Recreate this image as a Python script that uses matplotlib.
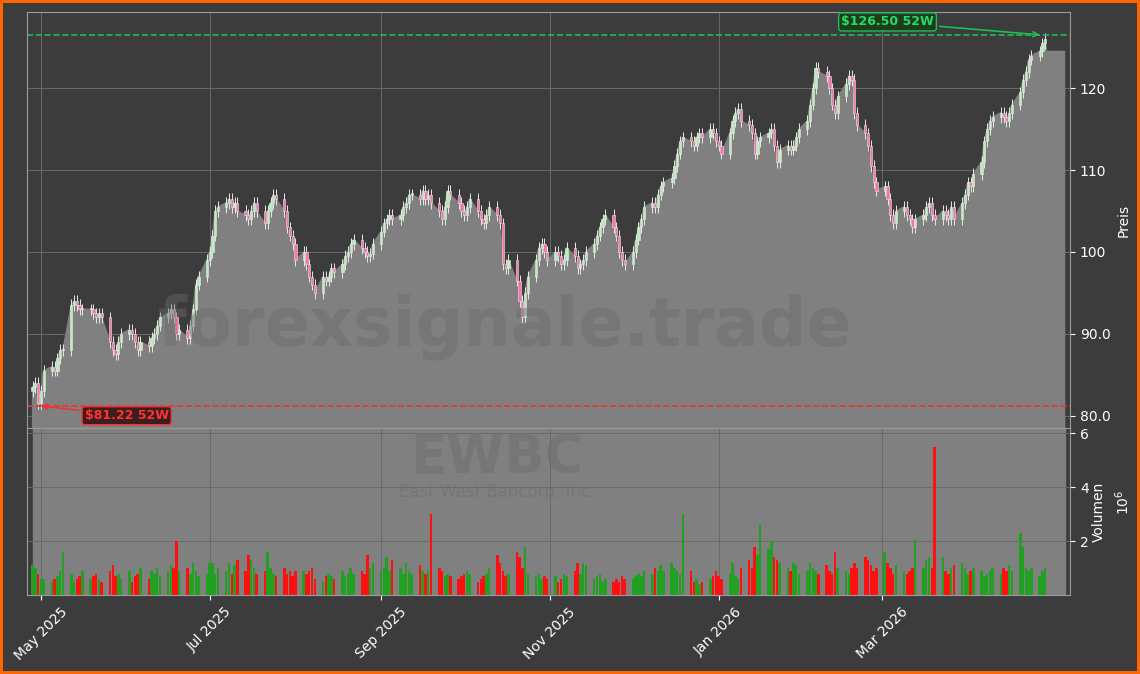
import matplotlib
matplotlib.use("Agg")
import matplotlib.pyplot as plt
import matplotlib.dates as mdates
import numpy as np
import pandas as pd

# daily closes, one list per week
weekly_closes = [
    [83.5, 84.0, 81.5, 83.0, 85.5],
    [86.0, 85.5, 87.0, 88.0, 88.0],
    [93.5, 94.0, 93.5, 93.0, 93.0],
    [93.0, 92.5, 92.0, 92.5, 92.0],
    [89.0, 88.0, 87.5, 89.0, 90.0],
    [90.5, 90.0, 89.0, 88.0, 89.0],
    [88.5, 89.5, 90.0, 91.0, 92.0],
    [92.5, 93.0, 92.0, 90.0, 90.5],
    [89.5, 91.0, 93.0, 96.0, 97.0],
    [99.0, 100.0, 102.0, 105.0, 105.5],
    [106.0, 106.5, 105.5, 106.0, 105.0],
    [104.5, 104.0, 105.0, 106.0, 105.0],
    [103.5, 105.0, 106.0, 107.0, 106.5],
    [105.0, 103.0, 102.0, 101.0, 99.0],
    [100.0, 98.5, 97.0, 96.0, 95.0],
    [97.0, 96.5, 97.0, 98.0, 97.5],
    [98.5, 99.5, 100.0, 101.0, 101.5],
    [100.5, 100.0, 99.5, 99.8, 101.0],
    [102.5, 103.5, 104.0, 104.5, 104.0],
    [104.5, 105.5, 106.0, 107.0, 107.0],
    [106.5, 107.5, 106.5, 107.0, 106.0],
    [105.0, 104.0, 105.5, 107.5, 107.0],
    [106.0, 105.0, 104.5, 105.5, 106.5],
    [105.0, 104.0, 103.5, 104.5, 105.5],
    [104.5, 103.5, 98.5, 98.0, 99.0],
    [96.5, 94.0, 92.0, 95.0, 97.0],
    [99.0, 100.5, 101.0, 100.0, 99.0],
    [100.0, 99.5, 98.5, 99.0, 100.5],
    [99.5, 98.0, 98.5, 99.0, 100.0],
    [101.0, 102.0, 103.0, 104.0, 104.5],
    [103.0, 102.0, 100.0, 99.0, 98.5],
    [100.0, 101.5, 103.0, 104.0, 105.5],
    [106.0, 105.5, 107.0, 108.0, 108.5],
    [109.0, 110.5, 112.0, 113.5, 114.0],
    [113.5, 113.0, 114.0, 114.5, 114.0],
    [115.0, 114.5, 113.5, 113.0, 112.0],
    [114.5, 116.0, 117.0, 117.5, 116.0],
    [115.5, 114.5, 112.0, 113.5, 114.0],
    [114.5, 115.0, 113.0, 111.0, 112.5],
    [113.0, 112.5, 113.0, 114.0, 115.0],
    [116.0, 118.0, 120.0, 122.5, 122.0],
    [121.5, 120.0, 118.0, 117.0, 119.0],
    [120.5, 121.5, 121.0, 117.0, 115.5],
    [114.5, 113.0, 110.5, 108.5, 107.5],
    [108.0, 106.5, 104.5, 103.5, 105.0],
    [105.5, 104.5, 104.0, 103.0, 104.0],
    [104.5, 105.5, 106.0, 104.5, 104.0],
    [105.0, 104.5, 104.0, 105.5, 104.0],
    [106.0, 107.0, 108.5, 108.0, 109.5],
    [111.0, 113.5, 115.0, 116.0, 116.5],
    [117.0, 116.5, 116.0, 117.0, 118.0],
    [119.5, 121.0, 122.0, 123.5, 124.0],
    [124.5, 125.5, 126.0],
]

# daily volume in millions, one list per week
weekly_volumes = [
    [1.1, 1.0, 0.8, 0.6, 0.6],
    [0.5, 0.6, 0.7, 0.9, 1.6],
    [0.8, 0.5, 0.6, 0.7, 0.9],
    [0.6, 0.7, 0.8, 0.6, 0.5],
    [0.9, 1.1, 0.7, 0.8, 0.6],
    [0.9, 0.5, 0.7, 0.8, 1.0],
    [0.6, 0.9, 0.8, 1.0, 0.7],
    [0.9, 1.1, 1.0, 2.0, 0.9],
    [1.0, 0.8, 1.2, 0.9, 0.7],
    [0.8, 1.2, 1.2, 0.8, 1.0],
    [0.9, 1.2, 0.8, 1.1, 1.3],
    [0.9, 1.5, 1.3, 1.0, 0.8],
    [0.9, 1.6, 1.0, 0.8, 0.7],
    [1.0, 0.8, 0.9, 0.7, 0.9],
    [0.9, 0.8, 0.9, 1.0, 0.6],
    [0.5, 0.7, 0.8, 0.7, 0.6],
    [0.9, 0.7, 0.8, 1.0, 0.8],
    [0.9, 0.8, 1.5, 1.0, 1.2],
    [0.9, 1.0, 1.4, 0.9, 1.3],
    [1.0, 0.8, 1.2, 0.9, 0.8],
    [1.1, 0.9, 0.8, 0.9, 3.0],
    [1.0, 0.9, 0.7, 0.8, 0.7],
    [0.6, 0.7, 0.8, 0.9, 0.8],
    [0.5, 0.6, 0.7, 0.8, 1.0],
    [1.5, 1.2, 0.9, 0.7, 0.8],
    [1.6, 1.4, 1.0, 1.8, 0.8],
    [0.7, 0.8, 0.6, 0.7, 0.6],
    [0.7, 0.5, 0.6, 0.8, 0.7],
    [0.9, 1.2, 0.8, 1.2, 1.1],
    [0.6, 0.7, 0.8, 0.5, 0.6],
    [0.5, 0.6, 0.5, 0.7, 0.6],
    [0.6, 0.7, 0.8, 0.7, 0.9],
    [0.8, 1.0, 0.9, 1.1, 0.9],
    [1.2, 1.0, 0.9, 0.8, 3.0],
    [0.9, 0.5, 0.6, 0.4, 0.5],
    [0.6, 0.7, 0.9, 0.7, 0.6],
    [0.8, 1.2, 0.7, 0.6, 1.0],
    [1.3, 1.0, 1.8, 1.5, 2.6],
    [1.7, 2.0, 1.4, 1.3, 1.2],
    [1.0, 0.9, 1.2, 1.1, 0.8],
    [0.9, 1.2, 1.0, 0.9, 0.8],
    [1.1, 0.9, 0.8, 1.6, 1.0],
    [0.9, 0.8, 1.0, 1.2, 1.0],
    [1.4, 1.3, 1.1, 0.9, 1.0],
    [1.6, 1.2, 1.0, 0.8, 1.1],
    [0.9, 0.8, 0.9, 1.0, 2.1],
    [1.0, 1.3, 1.4, 1.0, 5.5],
    [1.4, 0.9, 0.8, 1.0, 1.1],
    [1.2, 1.0, 0.8, 0.9, 1.0],
    [0.9, 0.7, 0.8, 0.9, 1.0],
    [0.8, 1.0, 0.9, 1.1, 0.9],
    [2.3, 1.8, 1.0, 0.9, 1.0],
    [0.7, 0.9, 1.0],
]

closes = [c for w in weekly_closes for c in w]
volumes = [v for w in weekly_volumes for v in w]
n = min(len(closes), len(volumes))
closes = np.array(closes[:n])
volumes = np.array(volumes[:n])
dates = pd.bdate_range("2025-04-28", periods=n)
opens = np.concatenate([[closes[0] - 0.5], closes[:-1]])

high_52w, low_52w = 126.50, 81.22
tail_close = 124.5  # flat tail of the area after the last candle

BG = "#3c3c3c"
fig = plt.figure(figsize=(11.4, 6.74), dpi=100, facecolor=BG,
                 edgecolor="#ff6600", linewidth=3)
ax = fig.add_axes([0.0237, 0.365, 0.915, 0.617], facecolor=BG)
axv = fig.add_axes([0.0237, 0.117, 0.915, 0.248], facecolor=BG, sharex=ax)

x = mdates.date2num(dates)
fill_x = np.append(x, [x[-1] + 0.5, x[-1] + 7])
fill_y = np.append(closes, [tail_close, tail_close])
ax.fill_between(fill_x, 0, fill_y, color="#808080", zorder=1)
axv.fill_between(fill_x[[0, -1]], 0, 10e6, color="#808080", zorder=0)

up = closes >= opens
for xi, o, c, u in zip(x, opens, closes, up):
    lo, hi = min(o, c), max(o, c)
    ax.vlines(xi, lo - 0.7, hi + 0.7, color="#e8e8e8", lw=0.7, zorder=2)
    ax.bar(xi, max(hi - lo, 0.15), bottom=lo, width=0.8,
           color="#b8f0b8" if u else "#ff70a8", edgecolor="#e8e8e8",
           linewidth=0.4, zorder=3)

axv.bar(x, volumes * 1e6, width=0.9,
        color=np.where(up, "#22a022", "#ff1010"), zorder=2)

ax.axhline(high_52w, color="#22bb55", ls="--", lw=1.2)
ax.axhline(low_52w, color="#ee3333", ls="--", lw=1.2)
ax.annotate("$126.50 52W", xy=(x[-2], high_52w), xytext=(mdates.datestr2num("2026-03-03"), 128.1),
            color="#22dd66", fontsize=9, fontweight="bold", ha="center", va="center",
            bbox=dict(boxstyle="round,pad=0.2", fc="#1d3d1d", ec="#22bb55"),
            arrowprops=dict(arrowstyle="->", color="#22bb55", lw=1.2))
ax.annotate("$81.22 52W", xy=(x[2], low_52w), xytext=(mdates.datestr2num("2025-06-01"), 80.0),
            color="#ff3333", fontsize=9, fontweight="bold", ha="center", va="center",
            bbox=dict(boxstyle="round,pad=0.2", fc="#3d1d1d", ec="#ee3333"),
            arrowprops=dict(arrowstyle="->", color="#ee3333", lw=1.2))

ax.set_xlim(mdates.datestr2num("2025-04-26"), mdates.datestr2num("2026-05-08"))
ax.set_ylim(78.5, 129.3)
axv.set_ylim(0, 6.2e6)

for a in (ax, axv):
    a.yaxis.tick_right()
    a.yaxis.set_label_position("right")
    a.grid(True, color="#6a6a6a", lw=0.7)
    a.set_axisbelow(True)
    a.tick_params(colors="white", labelsize=10)
    for s in a.spines.values():
        s.set_color("#9a9a9a")

ax.set_yticks([80, 90, 100, 110, 120])
ax.set_yticklabels(["80.0", "90.0", "100", "110", "120"])
ax.set_ylabel("Preis", color="white")
ax.tick_params(axis="x", labelbottom=False)

axv.set_yticks([2e6, 4e6, 6e6])
axv.set_yticklabels(["2", "4", "6"])
axv.set_ylabel("Volumen", color="white", labelpad=2)
fig.text(0.985, 0.255, "10$^6$", color="white", rotation=90, fontsize=10, va="center", ha="center")
month_ticks = pd.to_datetime(["2025-05-01", "2025-07-01", "2025-09-01",
                              "2025-11-01", "2026-01-01", "2026-03-01"])
axv.set_xticks(mdates.date2num(month_ticks))
axv.xaxis.set_major_formatter(mdates.DateFormatter("%b %Y"))
plt.setp(axv.get_xticklabels(), rotation=45, ha="center")

fig.text(0.443, 0.515, "forexsignale.trade", fontsize=48, fontweight="bold",
         color="#6a6a6a", alpha=0.45, ha="center", va="center")
fig.text(0.436, 0.32, "EWBC", fontsize=38, fontweight="bold",
         color="#6a6a6a", alpha=0.45, ha="center", va="center")
fig.text(0.436, 0.27, "East West Bancorp, Inc.", fontsize=12,
         color="#6a6a6a", alpha=0.45, ha="center", va="center")

fig.savefig("out.png", dpi=100, facecolor=BG, edgecolor="#ff6600")
